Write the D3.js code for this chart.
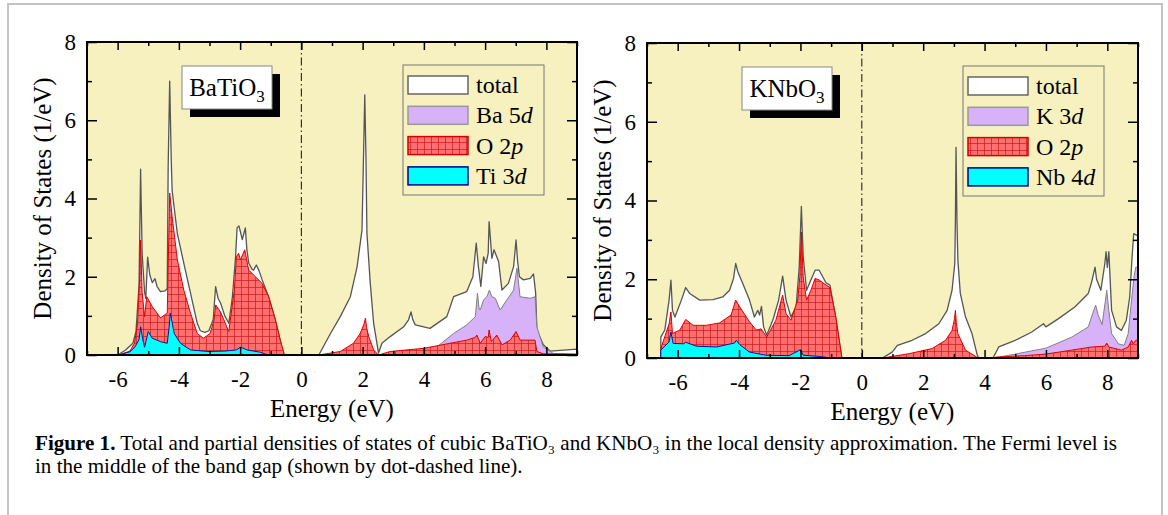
<!DOCTYPE html>
<html>
<head>
<meta charset="utf-8">
<title>DOS BaTiO3 KNbO3</title>
<script src="https://d3js.org/d3.v7.min.js"></script>
<style>
  body { margin: 0; background: #fff; }
  svg text { font-family: "Liberation Serif", "Times New Roman", serif; }
</style>
</head>
<body>
<div id="fig"></div>
<script>
// energy axis / DOS axis ticks
var xDomain = [-7, 9], yDomain = [0, 8]
var xMajor = [-6, -4, -2, 0, 2, 4, 6, 8]
var xMinor = [-7, -5, -3, -1, 1, 3, 5, 7, 9]
var yMajor = [0, 2, 4, 6, 8]
var yMinor = [1, 3, 5, 7]

// BaTiO3 : [energy (eV), DOS (1/eV)]
var btoTotal = [[-6.0,0],[-5.75,0.12],[-5.5,0.3],[-5.4,0.6],[-5.3,1.8],[-5.25,4.75],[-5.2,2.6],[-5.12,1.6],[-5.08,1.45],[-5.02,2.5],[-4.95,2.05],[-4.87,1.85],[-4.78,1.95],[-4.71,1.75],[-4.6,1.62],[-4.45,1.64],[-4.38,1.7],[-4.35,4.8],[-4.3,7.0],[-4.25,5.0],[-4.22,4.2],[-4.05,3.1],[-3.84,2.35],[-3.62,1.58],[-3.4,0.81],[-3.3,0.62],[-3.15,0.58],[-3.02,0.62],[-2.88,0.9],[-2.8,1.75],[-2.72,1.45],[-2.64,1.33],[-2.5,1.0],[-2.37,0.81],[-2.25,1.5],[-2.21,1.9],[-2.15,2.5],[-2.1,3.25],[-2.04,3.3],[-1.99,3.15],[-1.93,2.95],[-1.88,3.1],[-1.83,3.25],[-1.78,2.7],[-1.72,2.35],[-1.62,2.2],[-1.56,2.17],[-1.47,2.3],[-1.38,2.15],[-1.28,1.92],[-1.07,1.49],[-0.85,0.9],[-0.69,0.38],[-0.58,0],
  [0.57,0],[0.95,0.55],[1.27,0.98],[1.6,1.49],[1.82,2.26],[1.98,3.2],[2.04,5.5],[2.07,6.65],[2.11,5.0],[2.14,3.12],[2.25,1.83],[2.36,0.81],[2.52,0.05],[2.63,0.3],[2.9,0.47],[3.34,0.72],[3.5,0.9],[3.58,1.1],[3.64,0.9],[3.72,0.77],[4.2,0.68],[4.75,0.98],[4.97,1.49],[5.4,1.62],[5.6,2.0],[5.71,2.86],[5.78,2.26],[5.86,1.75],[5.95,2.51],[6.03,2.34],[6.1,2.6],[6.13,3.41],[6.18,2.9],[6.22,2.47],[6.29,2.69],[6.44,2.39],[6.55,1.66],[6.76,1.83],[6.93,2.26],[7.01,2.94],[7.06,2.4],[7.12,2.0],[7.25,1.92],[7.47,1.96],[7.58,2.07],[7.65,1.58],[7.69,0.64],[7.9,0.26],[8.12,0.1],[9.0,0.15]]
var btoBa5d = [[2.6,0],[3.5,0.05],[4.0,0.12],[4.43,0.21],[4.97,0.55],[5.4,0.77],[5.68,0.98],[5.75,1.58],[5.8,1.2],[5.84,1.15],[5.95,1.41],[6.06,1.49],[6.14,1.66],[6.22,1.49],[6.33,1.45],[6.49,1.15],[6.71,1.41],[6.93,1.66],[7.04,2.22],[7.14,1.49],[7.47,1.45],[7.63,1.49],[7.69,0.72],[7.9,0.2],[8.23,0.04],[9.0,0.02]]
var btoO2p = [[-5.97,0],[-5.6,0.1],[-5.45,0.3],[-5.35,0.8],[-5.28,2.0],[-5.25,2.94],[-5.2,1.6],[-5.12,0.98],[-5.05,1.49],[-4.87,1.24],[-4.6,0.95],[-4.38,1.07],[-4.33,3.0],[-4.3,4.14],[-4.22,3.54],[-4.05,2.43],[-3.84,1.66],[-3.62,1.07],[-3.4,0.55],[-3.2,0.43],[-2.98,0.55],[-2.85,0.9],[-2.8,1.28],[-2.64,1.1],[-2.37,0.6],[-2.19,1.66],[-2.12,2.51],[-2.05,2.6],[-1.99,2.43],[-1.85,2.69],[-1.72,2.17],[-1.5,2.0],[-1.28,1.83],[-1.07,1.49],[-0.85,0.9],[-0.69,0.38],[-0.55,0],
  [0.57,0],[1.27,0.09],[1.7,0.3],[1.92,0.55],[2.05,0.8],[2.09,0.94],[2.13,0.7],[2.2,0.47],[2.36,0.13],[2.52,0],[2.9,0.09],[3.99,0.17],[4.86,0.3],[5.4,0.38],[5.68,0.45],[5.73,0.51],[5.84,0.3],[6.0,0.47],[6.1,0.45],[6.13,0.64],[6.2,0.34],[6.38,0.51],[6.55,0.26],[6.82,0.38],[7.01,0.6],[7.14,0.38],[7.63,0.38],[7.69,0.09],[7.9,0.03],[9.0,0.02]]
var btoTi3d = [[-5.97,0],[-5.6,0.08],[-5.43,0.21],[-5.3,0.4],[-5.25,0.72],[-5.18,0.4],[-5.12,0.2],[-5.0,0.6],[-4.87,0.43],[-4.6,0.34],[-4.38,0.3],[-4.32,0.7],[-4.28,1.07],[-4.15,0.55],[-3.95,0.3],[-3.62,0.13],[-3.05,0.09],[-2.5,0.1],[-2.12,0.13],[-1.99,0.2],[-1.77,0.13],[-1.34,0.07],[-1.1,0]]

// KNbO3
var knoTotal = [[-6.55,0],[-6.55,0.53],[-6.42,0.71],[-6.28,1.47],[-6.22,1.98],[-6.17,1.21],[-6.09,1.04],[-5.88,1.47],[-5.74,1.79],[-5.61,1.64],[-5.28,1.47],[-4.85,1.48],[-4.53,1.55],[-4.31,1.72],[-4.18,2.02],[-4.11,2.4],[-4.04,2.19],[-3.88,1.89],[-3.66,1.47],[-3.5,1.04],[-3.39,1.21],[-3.33,1.09],[-3.27,1.31],[-3.2,0.79],[-3.1,0.58],[-2.9,0.96],[-2.71,1.47],[-2.58,2.08],[-2.47,1.47],[-2.31,1.04],[-2.14,1.3],[-2.04,2.31],[-1.97,3.85],[-1.91,2.57],[-1.8,1.72],[-1.66,1.98],[-1.52,2.23],[-1.39,2.23],[-1.3,2.1],[-1.17,1.91],[-1.04,1.85],[-0.85,1.04],[-0.65,0],
  [0.67,0],[0.99,0.15],[1.16,0.32],[1.64,0.45],[2.08,0.62],[2.51,0.87],[2.78,1.21],[2.94,1.72],[3.03,2.4],[3.05,3.5],[3.07,5.35],[3.1,3.5],[3.13,2.48],[3.21,1.64],[3.38,1.04],[3.59,0.62],[3.75,0.11],[3.8,0],[4.27,0],[4.35,0.11],[4.46,0.28],[5.0,0.45],[5.54,0.66],[5.92,0.87],[6.0,0.79],[6.41,1.0],[6.95,1.3],[7.38,1.64],[7.49,1.93],[7.6,2.31],[7.65,2.0],[7.79,1.72],[7.92,2.4],[7.96,2.7],[8.0,2.3],[8.05,2.7],[8.14,1.21],[8.3,0.79],[8.46,0.7],[8.62,0.96],[8.73,1.55],[8.8,2.48],[8.86,3.16],[9.0,3.1]]
var knoK3d = [[4.3,0],[5.0,0.1],[6.0,0.25],[6.84,0.53],[7.38,0.79],[7.54,1.17],[7.62,1.34],[7.7,1.1],[7.83,0.85],[7.94,1.47],[7.98,1.72],[8.05,1.2],[8.14,0.62],[8.36,0.36],[8.55,0.32],[8.68,0.62],[8.79,1.47],[8.87,2.06],[8.93,2.31],[9.0,2.3]]
var knoO2p = [[-6.55,0],[-6.55,0.24],[-6.28,0.87],[-6.22,1.17],[-6.17,0.62],[-5.93,0.71],[-5.74,0.98],[-5.5,0.83],[-5.07,0.83],[-4.64,0.89],[-4.26,1.09],[-4.11,1.47],[-3.98,1.3],[-3.66,0.92],[-3.44,0.71],[-3.28,0.74],[-3.1,0.53],[-2.8,0.96],[-2.58,1.6],[-2.47,1.13],[-2.31,0.96],[-2.09,1.47],[-2.02,2.06],[-1.97,3.2],[-1.91,2.06],[-1.8,1.47],[-1.66,1.72],[-1.52,2.02],[-1.39,1.98],[-1.23,1.89],[-1.04,1.79],[-0.85,1.04],[-0.65,0],
  [0.67,0],[1.54,0.11],[2.29,0.24],[2.73,0.45],[2.94,0.7],[3.02,1.0],[3.05,1.21],[3.08,0.9],[3.13,0.62],[3.38,0.2],[3.75,0.02],[3.8,0],[4.3,0],[4.35,0.02],[5.3,0.06],[6.0,0.1],[6.84,0.2],[7.49,0.28],[7.92,0.3],[7.98,0.38],[8.05,0.28],[8.46,0.2],[8.68,0.28],[8.79,0.45],[8.84,0.36],[8.93,0.45],[9.0,0.45]]
var knoNb4d = [[-6.55,0],[-6.55,0.2],[-6.28,0.41],[-6.22,0.66],[-6.15,0.37],[-5.8,0.36],[-5.74,0.4],[-5.39,0.3],[-4.74,0.28],[-4.15,0.38],[-4.09,0.45],[-3.98,0.34],[-3.66,0.15],[-3.12,0.07],[-2.37,0.06],[-2.0,0.21],[-1.91,0.07],[-1.39,0.04],[-1.0,0]]

var serif = "Liberation Serif, Times New Roman, serif"
var W = 1168, H = 515
var svg = d3.select("#fig").append("svg")
    .attr("width", W)
    .attr("height", H)
    .attr("font-family", serif)

svg.append("rect").attr("width", W).attr("height", H).attr("fill", "#fff")

// page frame
svg.append("path")
    .attr("d", "M8,515 V4 H1162 V515")
    .attr("fill", "none")
    .attr("stroke", "#c4c4c4")
    .attr("stroke-width", 2)

// hatch for O 2p
var defs = svg.append("defs")
var pat = defs.append("pattern")
    .attr("id", "hatch")
    .attr("patternUnits", "userSpaceOnUse")
    .attr("width", 7).attr("height", 7)
pat.append("rect").attr("width", 7).attr("height", 7).attr("fill", "#ff7070")
pat.append("path").attr("d", "M0,0.4 H7 M0.4,0 V7")
    .attr("stroke", "#d01818").attr("stroke-width", 0.8)

var styles = {
    total: {fill: "#ffffff", stroke: "#555", sw: 1.3, lstroke: "#666"},
    a:     {fill: "#d7b2f8", stroke: "#808080", sw: 1, lstroke: "#999"},
    o2p:   {fill: "url(#hatch)", stroke: "#e00000", sw: 1, lstroke: "#d00000"},
    b:     {fill: "#00ffff", stroke: "#1010a0", sw: 1, lstroke: "#00008b"}
}

function drawPanel(p) {
    var g = svg.append("g")
        .attr("transform", "translate(" + p.left + "," + p.top + ")")

    var x = d3.scaleLinear().domain(xDomain).range([0, p.width])
    var y = d3.scaleLinear().domain(yDomain).range([p.height, 0])

    g.append("rect")
        .attr("width", p.width).attr("height", p.height)
        .attr("fill", "#f7f1bf")

    defs.append("clipPath").attr("id", p.id + "clip")
        .append("rect").attr("width", p.width).attr("height", p.height)

    var area = d3.area()
        .x(function(d) { return x(d[0]) })
        .y0(y(0))
        .y1(function(d) { return y(d[1]) })

    var plot = g.append("g").attr("clip-path", "url(#" + p.id + "clip)")
    p.series.forEach(function(s) {
        var st = styles[s.key]
        plot.append("path")
            .datum(s.data)
            .attr("d", area)
            .attr("fill", st.fill)
            .attr("stroke", st.stroke)
            .attr("stroke-width", st.sw)
            .attr("stroke-linejoin", "round")
    })

    // Fermi level (dot-dashed)
    g.append("line")
        .attr("x1", x(0)).attr("x2", x(0))
        .attr("y1", 0).attr("y2", p.height)
        .attr("stroke", "#222")
        .attr("stroke-width", 1.1)
        .attr("stroke-dasharray", "8,3,1.5,3")

    // axes, ticks pointing in
    function styleAxis(sel) {
        sel.select(".domain").remove()
        sel.selectAll(".tick line").attr("stroke", "#000").attr("stroke-width", 1.5)
        sel.attr("font-size", 23).attr("font-family", serif)
        sel.selectAll("text").attr("fill", "#000")
    }
    var lbl = function(d) { return String(d) }
    g.append("g").attr("transform", "translate(0," + p.height + ")")
        .call(d3.axisBottom(x).tickValues(xMajor).tickSize(-8).tickPadding(16).tickFormat(lbl))
        .call(styleAxis)
    g.append("g").attr("transform", "translate(0," + p.height + ")")
        .call(d3.axisBottom(x).tickValues(xMinor).tickSize(-4).tickFormat(""))
        .call(styleAxis)
    g.append("g")
        .call(d3.axisTop(x).tickValues(xMajor).tickSize(-8).tickFormat(""))
        .call(styleAxis)
    g.append("g")
        .call(d3.axisTop(x).tickValues(xMinor).tickSize(-4).tickFormat(""))
        .call(styleAxis)
    g.append("g")
        .call(d3.axisLeft(y).tickValues(yMajor).tickSize(-10).tickPadding(11).tickFormat(lbl))
        .call(styleAxis)
    g.append("g")
        .call(d3.axisLeft(y).tickValues(yMinor).tickSize(-5).tickFormat(""))
        .call(styleAxis)
    g.append("g").attr("transform", "translate(" + p.width + ",0)")
        .call(d3.axisRight(y).tickValues(yMajor).tickSize(-10).tickFormat(""))
        .call(styleAxis)
    g.append("g").attr("transform", "translate(" + p.width + ",0)")
        .call(d3.axisRight(y).tickValues(yMinor).tickSize(-5).tickFormat(""))
        .call(styleAxis)

    g.append("rect")
        .attr("width", p.width).attr("height", p.height)
        .attr("fill", "none").attr("stroke", "#000").attr("stroke-width", 2)

    // axis titles
    g.append("text")
        .attr("transform", "translate(-36," + (p.height / 2) + ") rotate(-90)")
        .attr("text-anchor", "middle")
        .attr("font-size", 25)
        .text("Density of States (1/eV)")
    g.append("text")
        .attr("x", p.width / 2).attr("y", p.height + 62)
        .attr("text-anchor", "middle")
        .attr("font-size", 25)
        .text("Energy (eV)")

    // compound label with shadow
    var box = g.append("g").attr("transform", "translate(95,24)")
    box.append("rect").attr("x", 8).attr("y", 8).attr("width", 90).attr("height", 43).attr("fill", "#000")
    box.append("rect").attr("width", 90).attr("height", 43)
        .attr("fill", "#fff").attr("stroke", "#888").attr("stroke-width", 1)
    var t = box.append("text").attr("x", 45).attr("y", 30)
        .attr("text-anchor", "middle").attr("font-size", 25)
    t.append("tspan").text(p.name)
    t.append("tspan").attr("dy", 6).attr("font-size", 17).text("3")

    // legend
    var leg = g.append("g").attr("transform", "translate(316,23)")
    leg.append("rect").attr("width", 141).attr("height", 130)
        .attr("fill", "none").attr("stroke", "#777").attr("stroke-width", 1)
    p.legend.forEach(function(l, i) {
        var st = styles[l.key]
        var cy = 20 + i * 30.3
        leg.append("rect")
            .attr("x", 5).attr("y", cy - 9)
            .attr("width", 60).attr("height", 18)
            .attr("fill", st.fill)
            .attr("stroke", st.lstroke)
            .attr("stroke-width", 1.5)
        var lt = leg.append("text")
            .attr("x", 73).attr("y", cy + 8)
            .attr("font-size", 24)
        lt.append("tspan").text(l.label)
        if (l.orb) lt.append("tspan").attr("font-style", "italic").text(l.orb)
    })
}

drawPanel({
    id: "bto", left: 87, top: 42, width: 490, height: 313, name: "BaTiO",
    series: [
        {key: "total", data: btoTotal},
        {key: "a", data: btoBa5d},
        {key: "o2p", data: btoO2p},
        {key: "b", data: btoTi3d}
    ],
    legend: [
        {key: "total", label: "total"},
        {key: "a", label: "Ba 5", orb: "d"},
        {key: "o2p", label: "O 2", orb: "p"},
        {key: "b", label: "Ti 3", orb: "d"}
    ]
})

drawPanel({
    id: "kno", left: 647, top: 43, width: 491, height: 315, name: "KNbO",
    series: [
        {key: "total", data: knoTotal},
        {key: "a", data: knoK3d},
        {key: "o2p", data: knoO2p},
        {key: "b", data: knoNb4d}
    ],
    legend: [
        {key: "total", label: "total"},
        {key: "a", label: "K 3", orb: "d"},
        {key: "o2p", label: "O 2", orb: "p"},
        {key: "b", label: "Nb 4", orb: "d"}
    ]
})

// caption
var cap1 = svg.append("text").attr("x", 35).attr("y", 450).attr("font-size", 16)
cap1.append("tspan").attr("font-weight", "bold").text("Figure 1.")
cap1.append("tspan").text(" Total and partial densities of states of cubic BaTiO\u2083 and KNbO\u2083 in the local density approximation. The Fermi level is")
var cap2 = svg.append("text").attr("x", 35).attr("y", 473).attr("font-size", 16)
    .text("in the middle of the band gap (shown by dot-dashed line).")

// widen the caption font to the printed line width
var len = cap1.node().getComputedTextLength()
var fs = 16 * 1083 / len
cap1.attr("font-size", fs)
cap2.attr("font-size", fs)
</script>
</body>
</html>
